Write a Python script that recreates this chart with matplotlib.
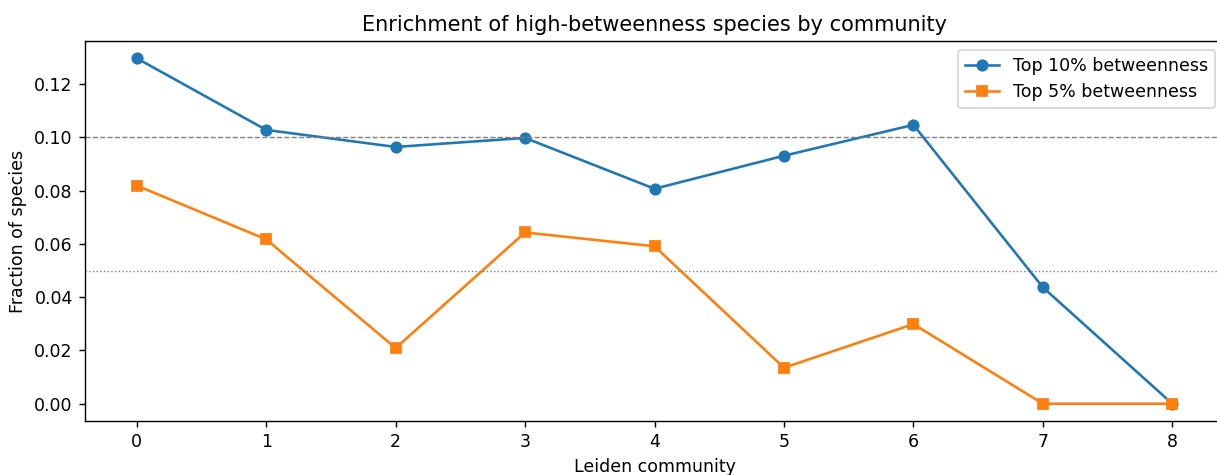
import matplotlib
matplotlib.use("Agg")
import matplotlib.pyplot as plt

# community ids
communities = [0, 1, 2, 3, 4, 5, 6, 7, 8]
# fraction of species in top 10% / top 5% betweenness
top10 = [0.1297, 0.1028, 0.0964, 0.0998, 0.0807, 0.0931, 0.1047, 0.0437, 0.0]
top5 = [0.0819, 0.0617, 0.0209, 0.0643, 0.0591, 0.0135, 0.0299, 0.0, 0.0]

DPI = 125
fig = plt.figure(figsize=(1217 / DPI, 475 / DPI), dpi=DPI)
ax = fig.add_axes([0.0698, 0.1137, 0.936, 0.80])

ax.plot(communities, top10, marker='o', label='Top 10% betweenness')
ax.plot(communities, top5, marker='s', label='Top 5% betweenness')

# reference lines for expected fractions
ax.axhline(0.10, color='gray', linestyle='--', linewidth=0.8)
ax.axhline(0.05, color='gray', linestyle=':', linewidth=0.8)

ax.set_xticks(communities)
ax.set_xlabel('Leiden community')
ax.set_ylabel('Fraction of species')
ax.set_title('Enrichment of high-betweenness species by community')
ax.legend(loc='upper right')

fig.savefig('out.png', dpi=DPI)
